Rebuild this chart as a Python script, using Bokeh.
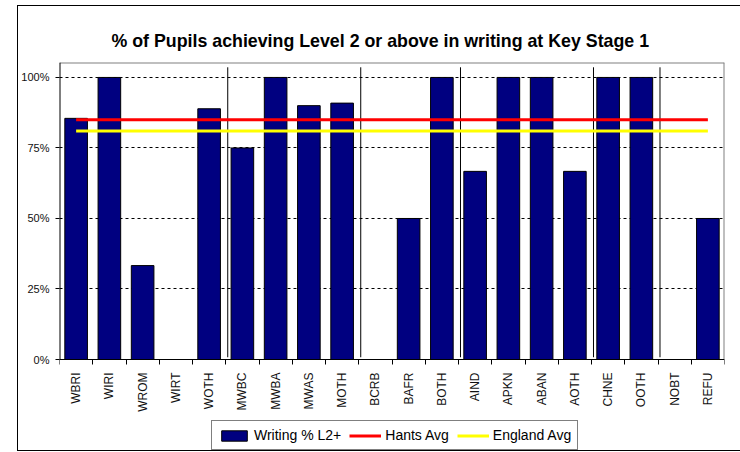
import math
from bokeh.plotting import figure
from bokeh.models import Range1d, FixedTicker, Legend, LegendItem
from bokeh.embed import file_html
from bokeh.resources import INLINE

# ---- data ----
categories = ["WBRI", "WIRI", "WROM", "WIRT", "WOTH",
              "MWBC", "MWBA", "MWAS", "MOTH",
              "BCRB", "BAFR", "BOTH",
              "AIND", "APKN", "ABAN", "AOTH",
              "CHNE", "OOTH",
              "NOBT", "REFU"]
writing_pct = [85.5, 100, 33.3, 0, 88.9,
               75, 100, 90, 90.9,
               0, 50, 100,
               66.7, 100, 100, 66.7,
               100, 100,
               0, 50]
hants_avg = 85
england_avg = 81
group_sizes = [5, 4, 3, 4, 2, 2]
y_ticks = [0, 25, 50, 75, 100]
y_tick_labels = ["0%", "25%", "50%", "75%", "100%"]

n = len(categories)
xs = [i + 0.5 for i in range(n)]
bounds = []
acc = 0
for g in group_sizes[:-1]:
    acc += g
    bounds.append(acc)

LAB = "Liberation Sans"
Y_TOP = 105.3
Y_BOTTOM = -32.26   # room under the axis for the category labels and legend

p = figure(frame_width=665, frame_height=388, output_backend="svg", toolbar_location=None,
           x_range=Range1d(0, n), y_range=Range1d(Y_BOTTOM, Y_TOP),
           min_border_left=40, min_border_right=17, min_border_top=56, min_border_bottom=0,
           title="% of Pupils achieving Level 2 or above in writing at Key Stage 1")
p.styles = {"margin-left": "17px", "margin-top": "5px",
            "border": "1px solid black", "border-right": "none"}

p.title.text_font = LAB
p.title.text_font_size = "17.8px"
p.title.text_font_style = "bold"
p.title.text_color = "black"
p.title.align = "left"
p.title.offset = 52
p.title.standoff = 23

p.outline_line_color = None
p.background_fill_color = "white"
p.border_fill_color = "white"

# plot-area edges (grey top/right, black left axis line)
p.segment(x0=[0, n], y0=[Y_TOP, 0], x1=[n, n], y1=[Y_TOP, Y_TOP],
          line_color="#808080", line_width=2)
p.segment(x0=[0], y0=[0], x1=[0], y1=[Y_TOP], line_color="black", line_width=2)

# separators between ethnic groups
p.segment(x0=[b + 0.06 for b in bounds], y0=0.8,
          x1=[b + 0.06 for b in bounds], y1=103.6,
          line_color="black", line_width=1)

bars = p.vbar(x=xs, top=writing_pct, width=0.68, bottom=0,
              fill_color="#000080", line_color="black", line_width=1)
hants = p.line(xs, [hants_avg] * n, line_color="#FF0000", line_width=3)
eng = p.line(xs, [england_avg] * n, line_color="#FFFF00", line_width=3)

# y axis
p.yaxis.ticker = FixedTicker(ticks=y_ticks)
p.yaxis.major_label_overrides = {t: l for t, l in zip(y_ticks, y_tick_labels)}
p.yaxis.major_label_text_font = LAB
p.yaxis.major_label_text_font_size = "11px"
p.yaxis.major_label_text_color = "#111111"
p.yaxis.major_tick_out = 4
p.yaxis.major_tick_in = 0
p.yaxis.minor_tick_line_color = None
p.yaxis.major_label_standoff = 6
p.yaxis.axis_line_color = None

# x axis, fixed at 0%
p.xaxis.fixed_location = 0
p.xaxis.ticker = FixedTicker(ticks=xs, minor_ticks=list(range(n + 1)))
p.xaxis.major_label_overrides = {x: c for x, c in zip(xs, categories)}
p.xaxis.major_label_orientation = math.pi / 2
p.xaxis.major_label_text_font = LAB
p.xaxis.major_label_text_font_size = "12px"
p.xaxis.major_label_text_color = "#111111"
p.xaxis.major_tick_line_color = None
p.xaxis.major_tick_out = 5
p.xaxis.major_tick_in = 0
p.xaxis.minor_tick_out = 5
p.xaxis.minor_tick_in = 0
p.xaxis.minor_tick_line_color = "black"
p.xaxis.major_label_standoff = 8
p.xaxis.axis_line_color = "black"

p.xgrid.visible = False
p.ygrid.ticker = FixedTicker(ticks=y_ticks)
p.ygrid.grid_line_color = "black"
p.ygrid.grid_line_dash = "3 3"
p.ygrid.grid_line_width = 1

legend = Legend(items=[LegendItem(label="Writing % L2+", renderers=[bars]),
                       LegendItem(label="Hants Avg", renderers=[hants]),
                       LegendItem(label="England Avg", renderers=[eng])],
                orientation="horizontal", location=(152, 0))
legend.border_line_color = "black"
legend.border_line_width = 1
legend.background_fill_color = "white"
legend.background_fill_alpha = 1
legend.label_text_font = LAB
legend.label_text_font_size = "14px"
legend.label_text_color = "black"
legend.glyph_width = 32
legend.glyph_height = 13
legend.label_height = 15
legend.label_standoff = 4
legend.spacing = 8
legend.padding = 6
legend.margin = 0
p.add_layout(legend, "center")

open("out.html", "w").write(file_html(p, INLINE))
